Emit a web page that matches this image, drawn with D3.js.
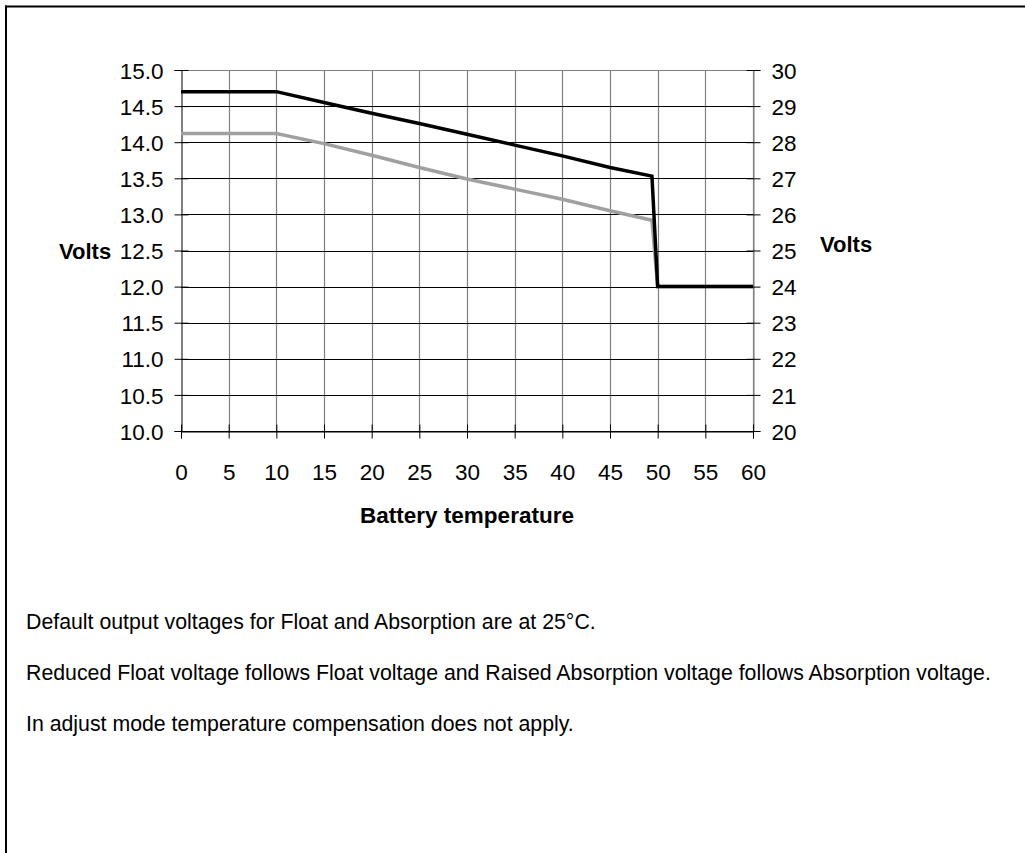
<!DOCTYPE html>
<html>
<head>
  <title>Temperature compensation</title>
  <style type="text/css">
    body { margin: 0; background: #fff; }
    text { font-family: "Liberation Sans", Arial, sans-serif; fill: #000; }
  </style>
</head>
<body>
  <div id="chart"></div>
<script src="https://d3js.org/d3.v7.min.js"></script>
<script type="text/javascript">

  // battery temperature (deg C) and the two voltage curves (12 V scale)
  var temps      = [0, 5, 10, 15, 20, 25, 30, 35, 40, 45, 49.4, 50, 55, 60];
  var absorption = [14.7, 14.7, 14.7, 14.55, 14.40, 14.26, 14.11, 13.96, 13.81, 13.65, 13.53, 12.0, 12.0, 12.0];
  var floatV     = [14.12, 14.12, 14.12, 13.98, 13.82, 13.65, 13.49, 13.35, 13.21, 13.05, 12.92, 12.0, 12.0, 12.0];

  var xTicks      = [0, 5, 10, 15, 20, 25, 30, 35, 40, 45, 50, 55, 60];
  var leftTicks   = [10.0, 10.5, 11.0, 11.5, 12.0, 12.5, 13.0, 13.5, 14.0, 14.5, 15.0];
  var rightTicks  = [20, 21, 22, 23, 24, 25, 26, 27, 28, 29, 30];

  var notes = [
    "Default output voltages for Float and Absorption are at 25\u00B0C.",
    "Reduced Float voltage follows Float voltage and Raised Absorption voltage follows Absorption voltage.",
    "In adjust mode temperature compensation does not apply."
  ];

  var W = 1025, H = 853;
  var plotL = 181, plotR = 753, plotT = 70, plotB = 431;

  var svg = d3.select("#chart").append("svg")
      .attr("width", W)
      .attr("height", H);

  // page frame (only top and left edges are visible)
  svg.append("line").attr("x1", 5).attr("x2", W).attr("y1", 6.5).attr("y2", 6.5)
     .attr("stroke", "#000").attr("stroke-width", 2);
  svg.append("line").attr("x1", 6).attr("x2", 6).attr("y1", 5.5).attr("y2", H)
     .attr("stroke", "#000").attr("stroke-width", 2);

  var x = d3.scaleLinear().domain([0, 60]).range([plotL, plotR]);
  var y = d3.scaleLinear().domain([10, 15]).range([plotB, plotT]);
  var y2 = d3.scaleLinear().domain([20, 30]).range([plotB, plotT]);

  // vertical gridlines (gray)
  svg.append("g")
    .selectAll("line")
    .data(xTicks.slice(1))
    .enter().append("line")
      .attr("x1", function(d) { return Math.round(x(d)) + 0.5; })
      .attr("x2", function(d) { return Math.round(x(d)) + 0.5; })
      .attr("y1", plotT).attr("y2", plotB)
      .attr("stroke", "#808080").attr("stroke-width", 1.2);

  // horizontal gridlines (black), top border gray
  svg.append("g")
    .selectAll("line")
    .data(leftTicks)
    .enter().append("line")
      .attr("x1", plotL).attr("x2", plotR)
      .attr("y1", function(d) { return Math.round(y(d)) + 0.5; })
      .attr("y2", function(d) { return Math.round(y(d)) + 0.5; })
      .attr("stroke", function(d) { return d == 15 ? "#808080" : "#000"; })
      .attr("stroke-width", 1);

  // axes with ticks crossing the axis line
  var gLeft = svg.append("g")
      .attr("transform", "translate(" + (plotL + 0.5) + ",0)")
      .call(d3.axisLeft(y).tickValues(leftTicks).tickSize(7).tickFormat(d3.format(".1f")));
  var gRight = svg.append("g")
      .attr("transform", "translate(" + (plotR + 0.5) + ",0)")
      .call(d3.axisRight(y2).tickValues(rightTicks).tickSize(7).tickFormat(d3.format("d")));
  var gBottom = svg.append("g")
      .attr("transform", "translate(0," + (plotB + 0.5) + ")")
      .call(d3.axisBottom(x).tickValues(xTicks).tickSize(7).tickFormat(d3.format("d")));

  [gLeft, gRight, gBottom].forEach(function(g) {
    g.attr("font-size", null).attr("font-family", null);
    g.selectAll("text").style("font-family", "'Liberation Sans', Arial, sans-serif")
      .style("font-size", "22.5px").attr("fill", "#000");
    g.selectAll(".tick line").attr("stroke", "#000");
    g.select(".domain").attr("stroke", "#000");
  });
  gRight.select(".domain").attr("stroke", "#808080");

  // extend ticks inward too
  gLeft.selectAll(".tick line").attr("x1", 7).attr("x2", -7);
  gRight.selectAll(".tick line").attr("x1", -7).attr("x2", 7);
  gBottom.selectAll(".tick line").attr("y1", -7).attr("y2", 7);

  gLeft.selectAll(".tick text").attr("x", -18).attr("dy", "0.36em");
  gRight.selectAll(".tick text").attr("x", 18).attr("dy", "0.36em");
  gBottom.selectAll(".tick text").attr("y", 48).attr("dy", 0);

  // curves
  var line = d3.line()
      .x(function(d) { return x(d[0]); })
      .y(function(d) { return y(d[1]); });

  svg.append("path")
      .datum(temps.map(function(t, i) { return [t, floatV[i]]; }))
      .attr("d", line)
      .attr("fill", "none")
      .attr("stroke", "#a0a0a0")
      .attr("stroke-width", 3.5);

  svg.append("path")
      .datum(temps.map(function(t, i) { return [t, absorption[i]]; }))
      .attr("d", line)
      .attr("fill", "none")
      .attr("stroke", "#000")
      .attr("stroke-width", 3.5);

  // axis titles
  svg.append("text").attr("x", 59).attr("y", 259)
     .style("font-size", "22px").style("font-weight", "bold").text("Volts");
  svg.append("text").attr("x", 820).attr("y", 252)
     .style("font-size", "22px").style("font-weight", "bold").text("Volts");
  svg.append("text").attr("x", (plotL + plotR) / 2).attr("y", 523)
     .attr("text-anchor", "middle")
     .style("font-size", "22.5px").style("font-weight", "bold").text("Battery temperature");

  // footnotes
  svg.append("g")
    .selectAll("text")
    .data(notes)
    .enter().append("text")
      .attr("x", 26)
      .attr("y", function(d, i) { return 629 + i * 51; })
      .style("font-size", "21.3px")
      .text(function(d) { return d; });

</script>
</body>
</html>
